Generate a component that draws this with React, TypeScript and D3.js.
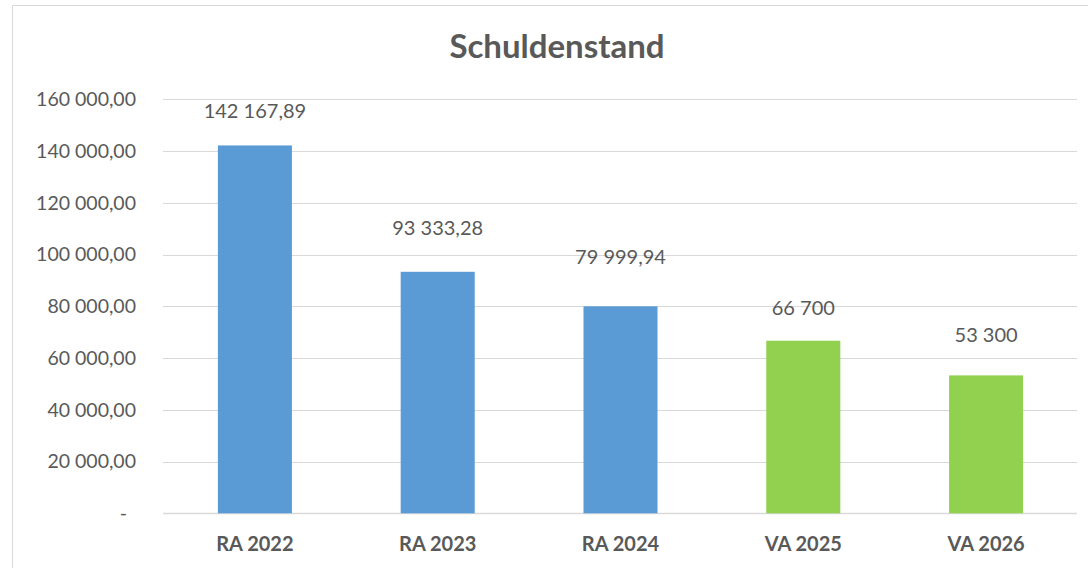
import React from 'react';
import * as d3 from 'd3';

const categories = ['RA 2022', 'RA 2023', 'RA 2024', 'VA 2025', 'VA 2026'];
const values = [142167.89, 93333.28, 79999.94, 66700, 53300];
const kinds = ['RA', 'RA', 'RA', 'VA', 'VA'];
const yTicks = [0, 20000, 40000, 60000, 80000, 100000, 120000, 140000, 160000];

// data labels were moved by hand in the original, px above bar top
const labelLift = [27.5, 37, 42, 26, 33];

const W = 1088;
const H = 568;
const FONT = 'Lato, "Open Sans", sans-serif';
const TEXT = '#595959';

const locale = d3.formatLocale({
   decimal: ',',
   thousands: ' ',
   grouping: [3],
   currency: ['', ''],
});
const fmt2 = locale.format(',.2f');
const fmt0 = locale.format(',.0f');

const App: React.FC = () => {
   const x = d3
      .scaleBand<string>()
      .domain(categories)
      .range([163.5, 1077.5])
      .paddingInner(0.595)
      .paddingOuter(0.2975);

   const y = d3.scaleLinear().domain([0, 160000]).range([513.3, 99.3]);

   const color = (k: string) => (k === 'RA' ? '#5b9bd5' : '#92d050');

   return (
      <svg
         width={W}
         height={H}
         style={{ position: 'absolute', left: 0, top: 0, background: '#fff' }}
      >
         <rect x={12.5} y={5.5} width={W + 20} height={H + 20} fill="#fff" stroke="#d9d9d9" strokeWidth={1} />

         <text x={557} y={58} textAnchor="middle" fontFamily={FONT} fontWeight={700} fontSize={33} fill={TEXT}>
            Schuldenstand
         </text>

         {/* gridlines + y labels */}
         {yTicks.map((t) => (
            <g key={t}>
               <line x1={163} x2={1077} y1={Math.round(y(t)) + 0.5} y2={Math.round(y(t)) + 0.5} stroke="#d9d9d9" strokeWidth={t === 0 ? 1.5 : 1.2} />
               <text
                  x={t === 0 ? 127 : 136}
                  y={y(t)}
                  dy="0.35em"
                  textAnchor="end"
                  fontFamily={FONT}
                  fontSize={19.5}
                  fill={TEXT}
               >
                  {t === 0 ? '-' : fmt2(t)}
               </text>
            </g>
         ))}

         {/* bars */}
         {categories.map((c, i) => (
            <rect
               key={c}
               x={x(c)}
               y={y(values[i])}
               width={x.bandwidth()}
               height={y(0) - y(values[i])}
               fill={color(kinds[i])}
            />
         ))}

         {/* value labels */}
         {categories.map((c, i) => (
            <text
               key={c}
               x={(x(c) ?? 0) + x.bandwidth() / 2}
               y={y(values[i]) - labelLift[i]}
               textAnchor="middle"
               fontFamily={FONT}
               fontSize={20}
               fill={TEXT}
            >
               {Number.isInteger(values[i]) ? fmt0(values[i]) : fmt2(values[i])}
            </text>
         ))}

         {/* category labels */}
         {categories.map((c) => (
            <text
               key={c}
               x={(x(c) ?? 0) + x.bandwidth() / 2}
               y={551}
               textAnchor="middle"
               fontFamily={FONT}
               fontWeight={700}
               fontSize={20}
               fill={TEXT}
            >
               {c}
            </text>
         ))}
      </svg>
   );
};

export default App;
